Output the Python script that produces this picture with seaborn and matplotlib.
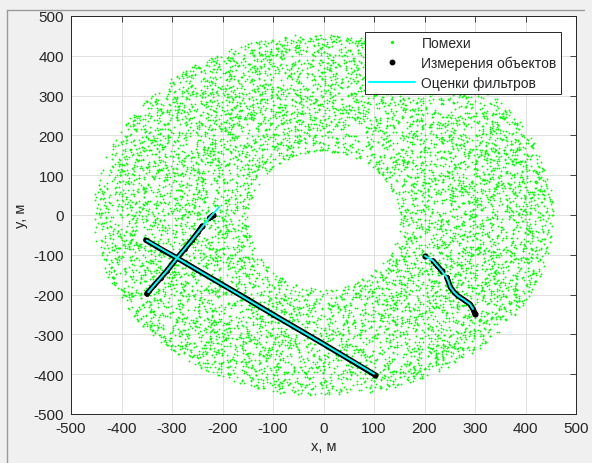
import numpy as np
import pandas as pd
import matplotlib
matplotlib.use("Agg")
import matplotlib.pyplot as plt
from matplotlib.lines import Line2D
import seaborn as sns

# ---------------- data ----------------
# clutter region (annulus): outer radius, inner hole ellipse
clutter_outer_r = 455.0
clutter_inner_rx = 150.0
clutter_inner_ry = 172.0
clutter_inner_cy = -12.0
clutter_count = 9000

# measurement tracks (x, y in metres)
track1_meas_x = [-352, -320, -290, -250, -200, -150, -100, -50, 0, 50, 101]
track1_meas_y = [-63, -87, -108, -138, -175, -212, -250, -287, -324, -362, -401]
track2a_meas_x = [-350, -346, -335, -322, -310, -290, -275, -260, -248, -240]
track2a_meas_y = [-198, -192, -176, -158, -140, -108, -86, -62, -42, -28]
track2b_meas_x = [-226, -222, -218]
track2b_meas_y = [-8, -4, 0]
track3a_meas_x = [201]
track3a_meas_y = [-103]
track3b_meas_x = [217, 225, 234]
track3b_meas_y = [-115, -127, -140]
track3c_meas_x = [244, 247, 251, 258, 266, 278, 290, 296, 300]
track3c_meas_y = [-157, -166, -181, -193, -203, -213, -224, -236, -248]

# filter estimates
est1_x = [-350, -290, -200, -100, 0, 100]
est1_y = [-64, -108, -175, -250, -324, -399]
est2_x = [-347, -335, -310, -290, -260, -240, -225, -206]
est2_y = [-194, -176, -140, -108, -62, -30, -6, 21]
est3_x = [201, 217, 234, 244, 247, 251, 258, 266, 278, 290, 296]
est3_y = [-103, -115, -140, -157, -166, -181, -193, -203, -213, -224, -236]

xticks = [-500, -400, -300, -200, -100, 0, 100, 200, 300, 400, 500]
yticks = [-500, -400, -300, -200, -100, 0, 100, 200, 300, 400, 500]

legend_labels = ["Помехи", "Измерения объектов", "Оценки фильтров"]

# NOTE: the ~9000 individual clutter points cannot be read off the picture one
# by one, so they are approximated with SEEDED RANDOM noise (fixed seed) that is
# uniform inside the annulus measured above. Only the region is read from the
# reference; the individual point positions are not.
rng = np.random.default_rng(7)
cx, cy = [], []
while len(cx) < clutter_count:
    px = rng.uniform(-clutter_outer_r, clutter_outer_r, 4000)
    py = rng.uniform(-clutter_outer_r, clutter_outer_r, 4000)
    keep = (px**2 + py**2 <= clutter_outer_r**2) & \
           ((px / clutter_inner_rx)**2 + ((py - clutter_inner_cy) / clutter_inner_ry)**2 >= 1)
    cx.extend(px[keep]); cy.extend(py[keep])
clutter = pd.DataFrame({"x": cx[:clutter_count], "y": cy[:clutter_count]})

# ---------------- figure ----------------
sns.set_style("white")
plt.rcParams["font.family"] = ["Liberation Sans", "DejaVu Sans"]
fig = plt.figure(figsize=(5.92, 4.64), dpi=100, facecolor="#f0f0f0")
ax = fig.add_axes([71/592, 1 - 415/464, 505/592, 398/464])
ax.set_facecolor("white")

GREEN = "#00ff00"
CYAN = "#00ffff"

sns.scatterplot(data=clutter, x="x", y="y", s=1.8, color=GREEN, linewidth=0,
                marker="o", ax=ax, zorder=2, legend=False)

meas_sets = [(track1_meas_x, track1_meas_y), (track2a_meas_x, track2a_meas_y),
             (track2b_meas_x, track2b_meas_y), (track3a_meas_x, track3a_meas_y),
             (track3b_meas_x, track3b_meas_y), (track3c_meas_x, track3c_meas_y)]
for mx, my in meas_sets:
    df = pd.DataFrame({"x": mx, "y": my})
    if len(mx) > 1:
        sns.lineplot(data=df, x="x", y="y", sort=False, estimator=None, color="black",
                     lw=3.9, ax=ax, zorder=3, solid_capstyle="round", legend=False)
    sns.scatterplot(data=df, x="x", y="y", s=12, color="black", linewidth=0,
                    ax=ax, zorder=3, legend=False)
    ends = pd.DataFrame({"x": [mx[-1]], "y": [my[-1]]})
    sns.scatterplot(data=ends, x="x", y="y", s=20, color="black", linewidth=0,
                    ax=ax, zorder=3, legend=False)

for ex, ey in [(est1_x, est1_y), (est2_x, est2_y), (est3_x, est3_y)]:
    df = pd.DataFrame({"x": ex, "y": ey})
    sns.lineplot(data=df, x="x", y="y", sort=False, estimator=None, color=CYAN,
                 lw=1.4, ax=ax, zorder=4, legend=False)

ax.set_xlim(-500, 500)
ax.set_ylim(-500, 500)
ax.set_xticks(xticks)
ax.set_yticks(yticks)
ax.set_xticklabels([str(t) for t in xticks])
ax.set_yticklabels([str(t) for t in yticks])
ax.grid(True, color="#dcdcdc", lw=0.6)
ax.set_axisbelow(True)
ax.tick_params(direction="in", length=4, width=0.6, colors="#262626",
               labelsize=11, top=True, right=True, pad=5)
for s in ax.spines.values():
    s.set_color("#262626")
    s.set_linewidth(0.7)
    s.set_visible(True)
ax.set_xlabel("x, м", fontsize=10.5, color="#262626", labelpad=3)
ax.set_ylabel("y, м", fontsize=10.5, color="#262626", labelpad=4)

handles = [
    Line2D([], [], ls="none", marker="o", ms=1.4, color=GREEN, mec=GREEN),
    Line2D([], [], ls="none", marker="o", ms=3.2, color="black"),
    Line2D([], [], color=CYAN, lw=1.5),
]
leg = ax.legend(handles, legend_labels, loc="upper right", bbox_to_anchor=(0.97, 0.96),
                borderaxespad=0, fontsize=10, frameon=True, fancybox=False,
                handlelength=3.3, labelspacing=0.42, borderpad=0.3,
                handletextpad=0.45, framealpha=1)
for t in leg.get_texts():
    t.set_color("#262626")
leg.get_frame().set_edgecolor("#262626")
leg.get_frame().set_linewidth(0.7)
leg.set_zorder(10)

# screenshot window border
fig.add_artist(Line2D([7/592, 7/592], [0, 1 - 11/464], transform=fig.transFigure,
                      color="#9a9a9a", lw=1))
fig.add_artist(Line2D([7/592, 584/592], [1 - 11/464, 1 - 11/464], transform=fig.transFigure,
                      color="#9a9a9a", lw=1))

fig.savefig("out.png", dpi=100, facecolor=fig.get_facecolor())
